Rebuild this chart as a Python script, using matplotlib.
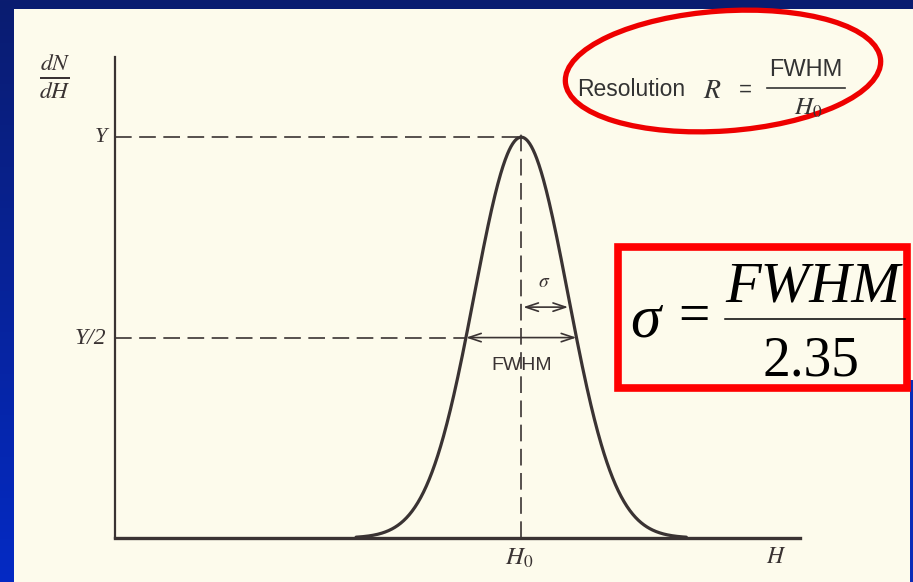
import numpy as np
import matplotlib
matplotlib.use("Agg")
import matplotlib.pyplot as plt
from matplotlib.patches import Ellipse, Rectangle

# ---- data (diagram parameters) ----
H0 = 59.3          # peak position (x units, axis 0..100)
FWHM = 16.1        # full width at half maximum
Y = 1.0            # peak height
x_range = [0, 100]
y_range = [0, 1.2]
axis_labels = {"y": r"$\frac{dN}{dH}$", "x": r"$H$"}
tick_labels = {"Y": "Y", "Y2": "Y/2", "H0": r"$H_0$"}
sigma = FWHM / 2.35

W, Hpx = 913, 582
fig = plt.figure(figsize=(W / 100, Hpx / 100), dpi=100)
plt.rcParams['mathtext.fontset'] = 'stix'

# ---- background (slide + paper) in pixel coordinates ----
bg = fig.add_axes([0, 0, 1, 1], zorder=0)
bg.set_xlim(0, W)
bg.set_ylim(Hpx, 0)
bg.axis("off")
top = np.array([10, 28, 112]) / 255
bot = np.array([4, 42, 196]) / 255
t = np.linspace(0, 1, 256)[:, None]
grad = (top[None, :] * (1 - t) + bot[None, :] * t)[:, None, :]
grad = np.repeat(grad, 2, axis=1)
bg.imshow(grad, extent=[0, W, Hpx, 0], aspect="auto", zorder=0)
paper = "#fdfbec"
bg.add_patch(Rectangle((14, 9), W - 14, Hpx - 9, facecolor=paper,
                       edgecolor="none", zorder=1))
bg.add_patch(Rectangle((910, 380), 3, Hpx - 380, facecolor="#0a2cb8",
                       edgecolor="none", zorder=2))

# ---- the diagram ----
ink = "#3a3333"
ax = fig.add_axes([115 / W, 44 / Hpx, (800 - 115) / W, (538 - 57) / Hpx], zorder=2)
ax.patch.set_alpha(0)
ax.set_xlim(*x_range)
ax.set_ylim(*y_range)
for s in ["top", "right"]:
    ax.spines[s].set_visible(False)
ax.spines["left"].set_color(ink)
ax.spines["left"].set_linewidth(1.6)
ax.spines["bottom"].set_color(ink)
ax.spines["bottom"].set_linewidth(2.4)
ax.set_xticks([])
ax.set_yticks([])

xs = np.linspace(x_range[0], x_range[1], 1200)
ys = Y * np.exp(-0.5 * ((xs - H0) / sigma) ** 2)
mask = ys > 0.002
ax.plot(xs[mask], ys[mask], color=ink, lw=2.3, solid_capstyle="round", clip_on=False)

dash = (0, (10, 4.5))
ax.plot([x_range[0], H0], [Y, Y], color=ink, lw=1.2, ls=dash)
xl = H0 - FWHM / 2
xr = H0 + FWHM / 2
ax.plot([x_range[0], xl], [Y / 2, Y / 2], color=ink, lw=1.2, ls=dash)
ax.plot([H0, H0], [0, Y * 1.02], color=ink, lw=1.2, ls=dash)

arrow = dict(arrowstyle="<->,head_length=0.9,head_width=0.3",
             color=ink, lw=1.2, shrinkA=0, shrinkB=0)
ax.annotate("", xy=(xl, Y / 2), xytext=(xr, Y / 2), arrowprops=arrow)
ax.annotate("", xy=(H0 + 0.3, 0.576), xytext=(H0 + sigma, 0.576), arrowprops=arrow)

serif = "Liberation Serif"
ax.text(-1.2, Y, tick_labels["Y"], ha="right", va="center", fontsize=16,
        family=serif, style="italic", color=ink)
ax.text(-1.3, Y / 2 - 0.003, tick_labels["Y2"], ha="right", va="center", fontsize=17,
        family=serif, style="italic", color=ink)
ax.text(-8.8, 1.152, axis_labels["y"], ha="center", va="center", fontsize=24,
        color=ink)
ax.text(H0 - 0.3, -0.05, tick_labels["H0"], ha="center", va="center", fontsize=18,
        color=ink)
ax.text(96.5, -0.045, axis_labels["x"], ha="center", va="center", fontsize=17, color=ink)
ax.text(H0, 0.43, "FWHM", ha="center", va="center", fontsize=14,
        family="Liberation Sans", color=ink)
ax.text(62.6, 0.64, r"$\sigma$", ha="center", va="center", fontsize=14, color=ink)

# ---- resolution ellipse ----
bg.add_patch(Ellipse((723, 71), 316, 120, angle=-4, facecolor="none",
                     edgecolor="#ee0000", lw=3.8, zorder=5))
txt = "#333333"
bg.text(577, 90, "Resolution", ha="left", va="center", fontsize=16.5,
        family="Liberation Sans", color=txt, zorder=6)
bg.text(712, 90, r"$R$", ha="center", va="center", fontsize=20, color=txt, zorder=6)
bg.text(745, 90, "=", ha="center", va="center", fontsize=16,
        family="Liberation Sans", color=txt, zorder=6)
bg.text(806, 70, "FWHM", ha="center", va="center", fontsize=17,
        family="Liberation Sans", color=txt, zorder=6)
bg.plot([767, 845], [88, 88], color=txt, lw=1.2, zorder=6)
bg.text(808, 108, r"$H_0$", ha="center", va="center", fontsize=18, color=txt, zorder=6)

# ---- sigma box ----
bg.add_patch(Rectangle((618, 247), 289, 141, facecolor=paper, edgecolor="#ff0000",
                       lw=5.5, zorder=5))
bg.text(645, 322, "σ", ha="center", va="center", fontsize=44, family=serif,
        style="italic", color="black", zorder=6)
bg.text(694, 318, "=", ha="center", va="center", fontsize=40, family=serif,
        color="black", zorder=6)
bg.text(813, 288, "FWHM", ha="center", va="center", fontsize=42, family=serif,
        style="italic", color="black", zorder=6)
bg.plot([725, 905], [319, 319], color="black", lw=1.1, zorder=6)
bg.text(811, 362, "2.35", ha="center", va="center", fontsize=40, family=serif,
        color="black", zorder=6)

fig.savefig("out.png", dpi=100)
